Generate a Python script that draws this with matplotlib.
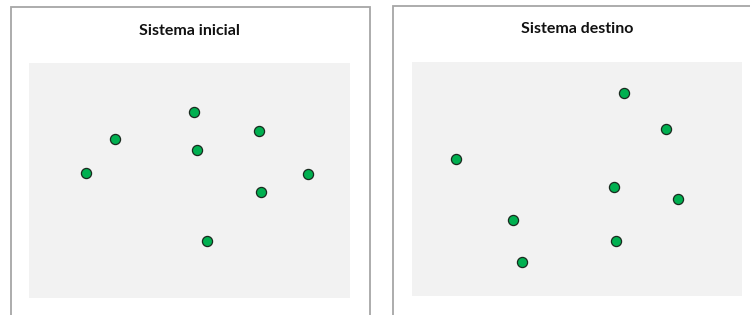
import matplotlib
matplotlib.use("Agg")
import matplotlib.pyplot as plt
from matplotlib.patches import Rectangle

# point positions as % of the grey plotting area
inicial_x = [17.8, 26.8, 51.4, 52.3, 71.7, 86.9, 72.3, 55.5]
inicial_y = [53.2, 67.7, 79.1, 63.0, 71.1, 52.8, 45.1, 24.3]
destino_x = [13.3, 64.2, 77.0, 61.2, 80.6, 30.6, 61.8, 33.3]
destino_y = [58.5, 86.8, 71.4, 46.6, 41.5, 32.5, 23.5, 14.5]
titles = ["Sistema inicial", "Sistema destino"]

W, H = 750, 315
_BORDER = "#a6a6a6"
_PANEL = "#f2f2f2"
_GREEN = "#00b050"
_EDGE = "#1a2a1f"


def px_box(x0, y0, x1, y1):
    """Pixel box (top-left origin) -> figure fraction [l, b, w, h]."""
    return [x0 / W, 1 - y1 / H, (x1 - x0) / W, (y1 - y0) / H]


fig = plt.figure(figsize=(W / 100, H / 100), dpi=100)
fig.patch.set_facecolor("white")

# outer frames (they run off the bottom / right of the image)
for (x0, y0, x1, y1) in [(10.5, 6.5, 369.5, 330), (392.5, 5.5, 760, 330)]:
    l, b, w, h = px_box(x0, y0, x1, y1)
    fig.patches.append(Rectangle((l, b), w, h, transform=fig.transFigure,
                                 fill=False, edgecolor=_BORDER, linewidth=1.3))

panels = [
    (px_box(29, 63, 350, 298), (189, 31), inicial_x, inicial_y),
    (px_box(412, 62, 742, 296), (577, 29), destino_x, destino_y),
]

for title, (box, (tx, ty), xs, ys) in zip(titles, panels):
    ax = fig.add_axes(box)
    ax.set_facecolor(_PANEL)
    for s in ax.spines.values():
        s.set_visible(False)
    ax.set_xticks([])
    ax.set_yticks([])
    ax.set_xlim(0, 100)
    ax.set_ylim(0, 100)
    ax.plot(xs, ys, linestyle="none", marker="o", markersize=7.3,
            markerfacecolor=_GREEN, markeredgecolor=_EDGE, markeredgewidth=0.9)
    fig.text(tx / W, 1 - ty / H, title, ha="center", va="center",
             fontsize=11.5, fontweight="bold", family=["Lato", "DejaVu Sans"],
             color="#111111")

fig.savefig("out.png", dpi=100, facecolor=fig.get_facecolor())
